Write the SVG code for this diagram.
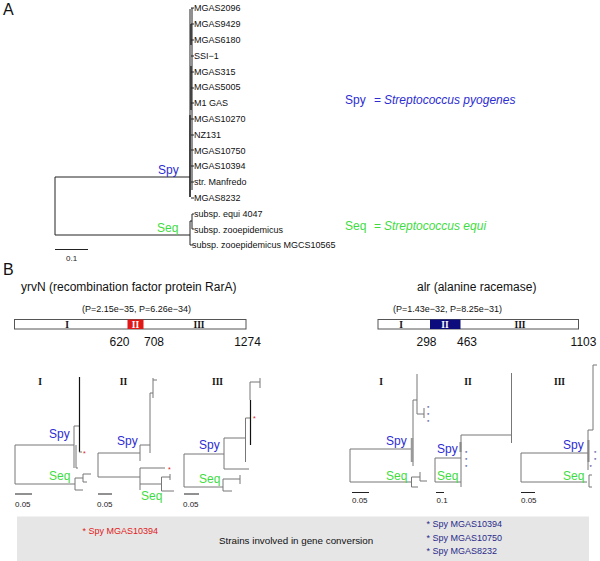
<svg xmlns="http://www.w3.org/2000/svg" width="600" height="561" viewBox="0 0 600 561">
<style>
text{font-family:"Liberation Sans",Arial,sans-serif;}
.panel{font-size:16px;fill:#111;}
.leaf{font-size:9px;fill:#111;}
.spy{fill:#2d2dd2;font-size:12px;}
.seq{fill:#3fdc3f;font-size:12px;}
.it{font-style:italic;}
.gene{font-size:12px;fill:#111;}
.pv{font-size:9px;fill:#111;}
.num{font-size:12px;fill:#111;}
.rom{font-family:"Liberation Serif","Times New Roman",serif;font-weight:bold;font-size:9.5px;fill:#111;text-anchor:middle;}
.romw{font-family:"Liberation Serif","Times New Roman",serif;font-weight:bold;font-size:9.5px;fill:#fff;text-anchor:middle;}
.sc{font-size:8px;fill:#222;}
.ta{stroke:#222;stroke-width:1;fill:none;}
.tb{stroke:#777;stroke-width:1;fill:none;}
.tk{stroke:#111;stroke-width:1.2;fill:none;}
.rs{fill:#e02020;font-size:7px;}
.bs{fill:#2a2a8a;font-size:6px;}
.note{font-size:9px;}
</style>

<text class="panel" x="3" y="15">A</text>
<text class="panel" x="3" y="275">B</text>

<g id="treeA-connectors">
  <path class="ta" d="M55,177V235M55,177H190M55,235H190"/>
  <path class="ta" d="M190,9V197M192,8V190"/>
  <path class="tk" d="M191,24V45M191,66V110M190,115V197"/>
  <path class="ta" d="M191,8H194M191,24H194M191,40H194M191,56H194M191,72H194M191,88H194M191,103H194M191,119H194M191,135H194M191,150H194M191,166H194M191,182H194M191,198H194"/>
  <path class="ta" d="M190,221V245M190,221H192M192,214V229M192,214H194M192,229H194M190,245H193"/>
  <path class="ta" d="M55,249.5H88"/>
</g>
<g id="treeA-leaves">
  <text class="leaf" x="194" y="11.3">MGAS2096</text>
  <text class="leaf" x="194" y="27.1">MGAS9429</text>
  <text class="leaf" x="194" y="42.9">MGAS6180</text>
  <text class="leaf" x="194" y="58.7">SSI−1</text>
  <text class="leaf" x="194" y="74.5">MGAS315</text>
  <text class="leaf" x="194" y="90.3">MGAS5005</text>
  <text class="leaf" x="194" y="106.1">M1 GAS</text>
  <text class="leaf" x="194" y="121.9">MGAS10270</text>
  <text class="leaf" x="194" y="137.7">NZ131</text>
  <text class="leaf" x="194" y="153.5">MGAS10750</text>
  <text class="leaf" x="194" y="169.3">MGAS10394</text>
  <text class="leaf" x="194" y="185.1">str. Manfredo</text>
  <text class="leaf" x="194" y="200.9">MGAS8232</text>
  <text class="leaf" x="194" y="216.7">subsp. equi 4047</text>
  <text class="leaf" x="194" y="232.5">subsp. zooepidemicus</text>
  <text class="leaf" x="192" y="248.3">subsp. zooepidemicus MGCS10565</text>
  <text class="sc" x="66" y="261">0.1</text>
</g>
<g id="treeA-clades">
  <text class="spy" x="158" y="173.5">Spy</text>
  <text class="seq" x="157" y="232">Seq</text>
</g>
<g id="legend">
  <text class="spy" x="345" y="104">Spy</text>
  <text class="spy" x="374" y="104">=</text>
  <text class="spy it" x="384" y="104">Streptococcus pyogenes</text>
  <text class="seq" x="345" y="230">Seq</text>
  <text class="seq" x="374" y="230">=</text>
  <text class="seq it" x="384" y="230">Streptococcus equi</text>
</g>

<g id="gene-yrvN">
  <text class="gene" x="21" y="291">yrvN (recombination factor protein RarA)</text>
  <text class="pv" x="82" y="312">(P=2.15e−35, P=6.26e−34)</text>
  <rect x="14.5" y="319.5" width="231.5" height="9.5" fill="#fff" stroke="#555" stroke-width="1"/>
  <rect x="127.5" y="319.5" width="16" height="9.5" fill="#e01818"/>
  <text class="rom" x="67" y="327.5">I</text>
  <text class="romw" x="135.5" y="327.5">II</text>
  <text class="rom" x="199" y="327.5">III</text>
  <text class="num" x="119.5" y="345.5" text-anchor="middle">620</text>
  <text class="num" x="154" y="345.5" text-anchor="middle">708</text>
  <text class="num" x="247.5" y="345.5" text-anchor="middle">1274</text>
</g>
<g id="gene-alr">
  <text class="gene" x="417" y="291">alr (alanine racemase)</text>
  <text class="pv" x="393" y="312">(P=1.43e−32, P=8.25e−31)</text>
  <rect x="378" y="319.5" width="200.5" height="9.5" fill="#fff" stroke="#555" stroke-width="1"/>
  <rect x="430" y="319.5" width="30.5" height="9.5" fill="#0c0c7c"/>
  <text class="rom" x="401" y="327.5">I</text>
  <text class="romw" x="445" y="327.5">II</text>
  <text class="rom" x="520" y="327.5">III</text>
  <text class="num" x="426.5" y="345.5" text-anchor="middle">298</text>
  <text class="num" x="467" y="345.5" text-anchor="middle">463</text>
  <text class="num" x="583.5" y="345.5" text-anchor="middle">1103</text>
</g>

<g id="tree-yrvN-I">
  <text class="rom" x="40" y="384.5">I</text>
  <path class="tb" d="M15,445V484M15,445H74M15,484H75"/>
  <path class="tb" d="M74,426V468M74,426H79M76,445V468M76,468H78"/>
  <path class="tk" d="M79.5,377V452"/>
  <path class="tb" d="M79,452H82"/>
  <path class="tb" d="M75,478V490M75,478H83M83,474V482M83,474H91M83,482H87M75,490H83"/>
  <text class="rs" x="83" y="456">*</text>
  <text class="spy" x="49" y="437.5">Spy</text>
  <text class="seq" x="49" y="480">Seq</text>
  <path class="ta" d="M15,494H32"/>
  <text class="sc" x="15" y="507">0.05</text>
</g>
<g id="tree-yrvN-II">
  <text class="rom" x="123.5" y="384.5">II</text>
  <path class="tb" d="M98,453V477M98,453H140M98,477H140"/>
  <path class="tb" d="M140,445V461M140,445H150M150,393V453M150,393H153M153,378V398M153,380H157"/>
  <path class="tb" d="M140,468V490M140,468H165M140,484H161.5M161.5,477V491M161.5,477H170M161.5,491H174M170,474V480"/>
  <text class="rs" x="168" y="472">*</text>
  <text class="spy" x="117" y="445">Spy</text>
  <text class="seq" x="141" y="500">Seq</text>
  <path class="ta" d="M98,494H112"/>
  <text class="sc" x="97" y="507">0.05</text>
</g>
<g id="tree-yrvN-III">
  <text class="rom" x="217.5" y="384.5">III</text>
  <path class="tb" d="M184,454V487M184,454H224M184,487H223"/>
  <path class="tb" d="M224,438V469M224,438H245.5M224,469H249M245.5,418V462M245.5,418H250"/>
  <path class="tb" d="M250,382V400M250,382H260M260,378V388"/>
  <path class="tk" d="M250.5,400V445"/>
  <path class="tb" d="M223,479V491M223,479H240M240,475V484M223,491H232"/>
  <text class="rs" x="253" y="421">*</text>
  <text class="spy" x="199" y="448.5">Spy</text>
  <text class="seq" x="199" y="482.5">Seq</text>
  <path class="ta" d="M184,494H199"/>
  <text class="sc" x="183" y="507">0.05</text>
</g>

<g id="tree-alr-I">
  <text class="rom" x="381" y="384.5">I</text>
  <path class="tb" d="M350,449V482M350,449H411M350,482H411"/>
  <path class="tb" d="M417,374V400M413,400H417M413,400V466M417,400V414M417,414H424M424,408V418"/>
  <path stroke="#999" stroke-width="2.5" fill="none" d="M412,438V462"/>
  <path class="tb" d="M411.5,477V487M411.5,477H420M420,472V481M420,481H427M411.5,487H418"/>
  <text class="bs" x="427" y="410">*</text>
  <text class="bs" x="427" y="417">*</text>
  <text class="bs" x="427" y="424">*</text>
  <text class="spy" x="386" y="445">Spy</text>
  <text class="seq" x="386" y="480">Seq</text>
  <path class="ta" d="M352,492.5H369"/>
  <text class="sc" x="352" y="503">0.05</text>
</g>
<g id="tree-alr-II">
  <text class="rom" x="468" y="384.5">II</text>
  <path class="tb" d="M435,458V482M435,458H461M435,482H461"/>
  <path class="tb" d="M461,435V487M461,435H511.5M511.5,373V443"/>
  <path stroke="#888" stroke-width="2" fill="none" d="M460.5,442V452"/>
  <text class="bs" x="465" y="455">*</text>
  <text class="bs" x="465" y="462">*</text>
  <text class="bs" x="465" y="469">*</text>
  <text class="spy" x="437" y="452.5">Spy</text>
  <text class="seq" x="437" y="480">Seq</text>
  <path class="ta" d="M436,492.5H444"/>
  <text class="sc" x="436.5" y="503">0.1</text>
</g>
<g id="tree-alr-III">
  <text class="rom" x="559.5" y="384.5">III</text>
  <path class="tb" d="M521,453V482M521,453H588M521,482H587"/>
  <path class="tb" d="M588,430V470M588,430H593M593,365V430M593,365H597"/>
  <path stroke="#888" stroke-width="2" fill="none" d="M588.5,440V462"/>
  <path class="tb" d="M589,475V487M589,475H592M589,487H592"/>
  <text class="bs" x="594" y="455">*</text>
  <text class="bs" x="594" y="462">*</text>
  <text class="bs" x="589.5" y="469">*</text>
  <text class="spy" x="563" y="448.5">Spy</text>
  <text class="seq" x="563" y="480">Seq</text>
  <path class="ta" d="M521,492.5H535"/>
  <text class="sc" x="521" y="503">0.05</text>
</g>

<g id="strains-box">
  <rect x="17" y="516.5" width="572" height="44.5" fill="#e6e6e6"/>
  <text class="note" x="82.5" y="534" fill="#e02020">* Spy MGAS10394</text>
  <text x="219" y="544" font-size="9.8" fill="#111">Strains involved in gene conversion</text>
  <text class="note" x="426.5" y="527" fill="#2a2a8a">* Spy MGAS10394</text>
  <text class="note" x="426.5" y="540.5" fill="#2a2a8a">* Spy MGAS10750</text>
  <text class="note" x="426.5" y="554" fill="#2a2a8a">* Spy MGAS8232</text>
</g>
</svg>
